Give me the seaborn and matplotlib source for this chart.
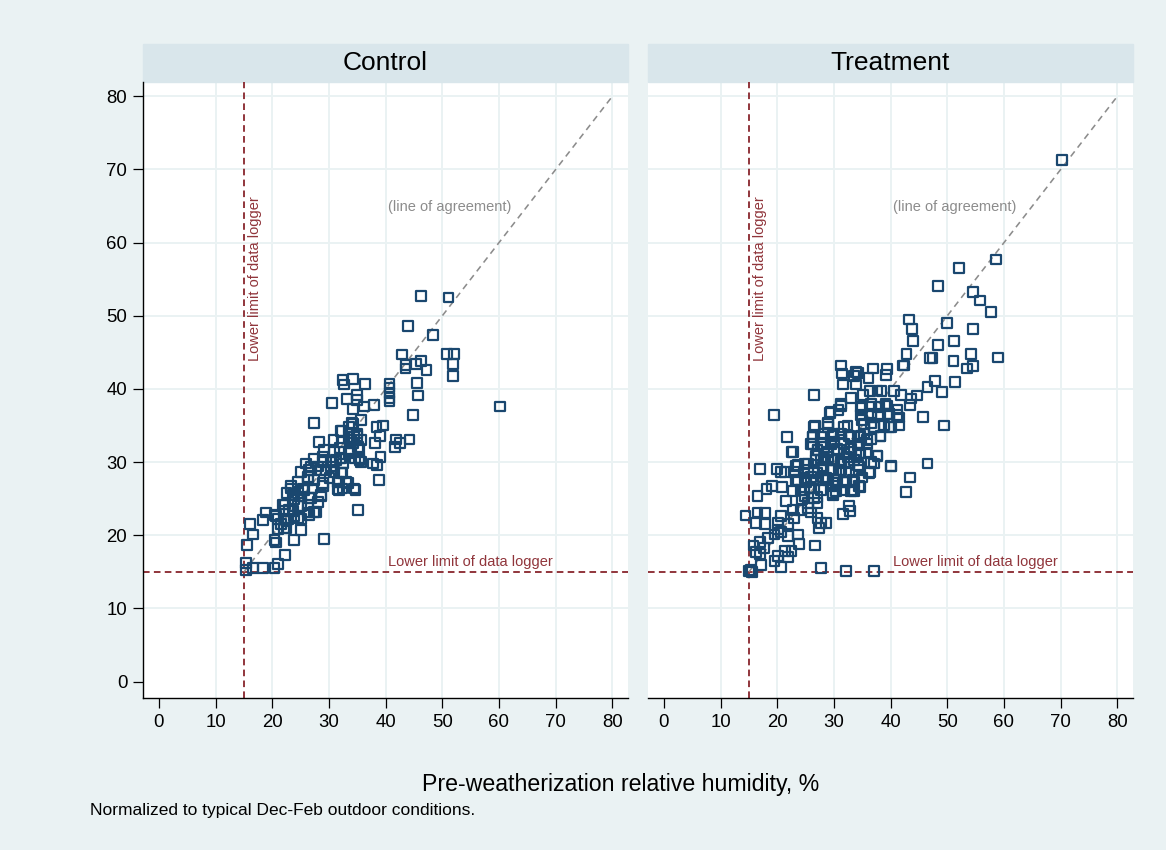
import numpy as np
import pandas as pd
import seaborn as sns
import matplotlib.pyplot as plt
from matplotlib.patches import Rectangle

# pre (x) vs post (y) relative humidity
ctrl_x = [46.3, 51.1, 43.9, 48.4, 42.9, 50.8, 52.0, 51.9, 51.9, 43.5, 43.5, 45.3, 46.3, 47.2, 45.6,
          45.7, 44.9, 40.7, 40.7, 40.7, 40.7, 40.7, 60.2, 32.4, 32.7, 34.2, 36.4, 30.6, 33.2, 35.0,
          35.0, 34.3, 36.2, 37.9, 27.4, 32.3, 34.0, 35.6, 35.0, 33.6, 38.4, 39.5, 39.0, 38.1, 39.1,
          41.9, 42.6, 44.2, 41.6, 37.8, 38.5, 38.9, 28.3, 30.8, 32.3, 34.4, 35.6, 33.7, 27.4, 28.9,
          30.4, 32.0, 33.6, 35.3, 35.6, 26.0, 25.1, 26.5, 28.0, 29.5, 30.9, 32.4, 31.5, 32.4, 34.4,
          34.7, 31.8, 33.3, 35.1, 26.3, 24.5, 27.4, 28.9, 30.1, 23.3, 24.5, 25.7, 26.8, 28.6, 28.0,
          22.5, 23.9, 25.1, 26.3, 27.4, 22.2, 23.7, 24.5, 18.9, 18.4, 20.7, 21.6, 22.8, 21.0, 22.5,
          25.1, 23.9, 22.0, 16.1, 16.6, 15.6, 20.4, 20.7, 22.2, 21.0, 29.2, 15.3, 15.3, 16.6, 18.4,
          20.4, 32.1, 33.6, 34.2, 34.9, 33.9, 35.3, 33.9, 29.2, 30.9, 32.1, 30.4, 28.6, 26.8, 32.1,
          31.5, 33.0, 31.8, 28.9, 27.1, 26.3, 23.3, 23.7, 25.1, 26.5, 28.6, 25.4, 21.9, 23.0, 24.5,
          26.3, 27.7, 21.0, 22.5, 23.9, 25.1, 26.5, 20.4, 22.1, 31.9, 31.3, 32.5, 29.0, 35.1, 34.3,
          33.7, 34.6, 35.4]
ctrl_y = [52.7, 52.5, 48.6, 47.4, 44.7, 44.8, 44.8, 43.4, 41.8, 43.3, 42.8, 43.4, 43.8, 42.6, 40.8,
          39.1, 36.4, 40.7, 40.2, 39.5, 38.8, 38.3, 37.6, 41.2, 40.6, 41.4, 40.7, 38.1, 38.6, 39.2,
          38.5, 37.3, 37.6, 37.8, 35.3, 34.2, 35.4, 35.7, 33.9, 33.4, 34.8, 35.0, 33.6, 32.6, 30.7,
          33.1, 32.6, 33.1, 32.1, 29.8, 29.6, 27.6, 32.7, 33.0, 32.7, 33.4, 33.0, 31.8, 30.5, 30.7,
          30.0, 30.5, 31.2, 30.5, 30.0, 29.8, 28.7, 28.9, 29.4, 28.9, 28.7, 28.5, 26.3, 26.4, 26.4,
          26.2, 27.3, 27.1, 23.5, 28.0, 27.3, 27.6, 27.1, 27.8, 26.4, 25.8, 26.2, 25.1, 25.3, 24.6,
          25.8, 24.9, 24.0, 23.1, 23.2, 24.2, 23.3, 22.4, 23.1, 22.1, 22.6, 21.5, 22.2, 20.9, 21.0,
          20.7, 19.3, 23.3, 21.5, 20.1, 18.7, 19.3, 19.0, 17.3, 16.1, 19.5, 16.2, 15.3, 15.5, 15.5,
          15.5, 34.3, 34.8, 35.2, 33.6, 33.0, 31.8, 31.4, 31.6, 31.4, 30.5, 29.4, 28.9, 29.4, 28.5,
          27.3, 27.3, 26.2, 26.7, 26.4, 27.6, 26.7, 25.5, 25.3, 25.1, 25.5, 26.4, 24.2, 23.5, 24.0,
          24.2, 23.1, 22.2, 21.9, 22.6, 22.2, 22.8, 22.8, 21.0, 31.9, 30.3, 29.8, 30.0, 32.1, 32.6,
          31.7, 30.5, 30.3]

treat_x = [70.2, 58.6, 52.0, 48.4, 54.6, 55.8, 57.7, 43.2, 43.8, 49.9, 54.6, 44.0, 48.4, 51.2, 42.8,
           47.0, 47.4, 51.1, 54.2, 58.9, 53.5, 54.5, 42.4, 47.9, 51.4, 46.5, 49.0, 31.2, 31.4, 31.6,
           33.9, 34.2, 33.6, 33.9, 36.1, 36.9, 39.4, 39.2, 42.2, 26.5, 19.4, 33.0, 35.2, 36.4, 37.7,
           38.4, 40.6, 41.8, 44.6, 43.6, 43.4, 45.7, 49.4, 31.2, 29.3, 30.8, 34.7, 36.5, 39.1, 41.2,
           39.7, 38.2, 41.5, 39.7, 41.5, 28.9, 28.9, 31.8, 35.0, 36.5, 37.1, 38.2, 26.5, 26.3, 27.7,
           29.8, 31.2, 32.7, 34.2, 35.3, 34.4, 35.9, 21.7, 22.5, 26.3, 27.1, 28.3, 29.5, 30.6, 31.8,
           33.0, 28.9, 30.1, 31.2, 32.4, 27.7, 26.8, 28.0, 29.8, 31.2, 33.6, 34.7, 35.6, 37.7, 37.1,
           34.4, 30.6, 40.0, 46.5, 43.4, 42.7, 36.3, 34.4, 33.6, 33.0, 30.4, 29.8, 32.1, 33.6, 32.7,
           32.9, 31.6, 17.0, 20.0, 20.7, 21.3, 23.3, 24.8, 25.4, 23.6, 24.8, 26.0, 27.1, 28.0, 28.9,
           29.8, 19.1, 20.9, 18.1, 16.5, 17.8, 16.5, 14.4, 16.3, 17.9, 20.1, 20.7, 21.6, 22.8, 24.8,
           26.5, 24.4, 25.4, 26.5, 27.1, 25.4, 24.2, 26.0, 27.1, 27.7, 28.6, 27.4, 22.8, 23.0, 21.9,
           20.1, 17.0, 18.4, 19.5, 20.7, 21.9, 23.6, 23.9, 26.7, 21.3, 22.5, 20.1, 19.5, 21.9, 17.7,
           15.8, 16.3, 16.9, 17.2, 20.7, 27.7, 32.1, 37.0, 15.0, 15.3, 15.6,
           31.2, 29.4, 35.0, 36.5, 38.0, 39.4, 34.7, 36.5, 37.8, 39.7, 41.1, 26.7, 28.9, 32.4, 35.3,
           37.1, 38.8, 40.0, 26.3, 28.3, 29.8, 31.2, 33.0, 34.7, 36.5, 38.2, 26.0, 28.0, 30.1, 31.8,
           34.2, 35.9, 22.8, 27.1, 28.9, 30.6, 32.7, 34.4, 37.7, 40.0, 23.6, 25.4, 26.8, 28.3, 29.8,
           31.2, 32.7, 34.2, 36.5, 23.0, 24.8, 26.5, 28.0, 29.5, 30.9, 32.1, 34.4, 36.2, 23.3, 25.1,
           26.8, 28.6, 30.1, 32.1, 33.3, 35.0, 24.2, 25.7, 27.7, 29.8, 31.8, 33.3, 34.7, 24.8, 27.1,
           29.8]
treat_y = [71.3, 57.7, 56.5, 54.1, 53.3, 52.1, 50.5, 49.5, 48.2, 49.0, 48.2, 46.5, 46.0, 46.5, 44.8,
           44.2, 44.2, 43.8, 44.8, 44.3, 42.8, 43.1, 43.2, 41.1, 41.0, 40.3, 39.6, 43.2, 42.1, 40.6,
           42.3, 42.2, 41.8, 40.6, 41.5, 42.8, 42.7, 41.9, 43.2, 39.2, 36.4, 38.8, 39.2, 39.7, 39.8,
           39.7, 39.7, 39.2, 39.1, 38.7, 37.8, 36.2, 35.0, 37.9, 36.7, 37.1, 37.5, 37.9, 37.9, 37.2,
           36.6, 36.4, 36.1, 34.8, 35.0, 35.4, 34.8, 34.8, 35.7, 35.4, 34.8, 33.6, 34.8, 33.4, 33.4,
           33.9, 33.0, 33.6, 33.4, 33.9, 32.5, 33.0, 33.4, 31.4, 32.5, 31.6, 32.1, 32.5, 31.8, 31.2,
           31.8, 30.7, 30.3, 29.8, 30.7, 30.3, 30.9, 29.4, 28.9, 28.9, 30.3, 31.2, 31.2, 30.8, 29.8,
           29.4, 27.6, 29.4, 29.8, 27.9, 25.9, 28.6, 26.7, 26.0, 26.0, 26.0, 25.8, 27.3, 27.3, 24.0,
           23.3, 22.9, 29.1, 29.1, 28.7, 28.7, 29.5, 29.7, 28.9, 27.6, 27.8, 28.0, 28.5, 28.0, 27.6,
           26.7, 26.7, 26.6, 26.3, 25.4, 23.0, 23.1, 22.7, 21.7, 21.5, 21.7, 22.6, 24.7, 26.0, 26.2,
           26.4, 24.9, 24.4, 25.1, 24.4, 23.7, 23.5, 23.1, 22.4, 21.7, 21.7, 21.0, 23.5, 22.4, 21.5,
           20.8, 19.1, 19.6, 20.1, 20.4, 19.9, 20.1, 18.8, 18.6, 17.9, 17.9, 17.2, 16.5, 17.0, 18.3,
           18.6, 17.7, 17.4, 15.9, 15.7, 15.5, 15.1, 15.1, 15.1, 15.2, 15.0,
           37.7, 36.8, 37.4, 37.6, 37.5, 37.7, 36.4, 36.4, 36.6, 36.6, 36.4, 35.0, 35.2, 35.0, 35.2,
           34.8, 35.0, 34.8, 33.4, 33.9, 33.6, 33.9, 33.4, 33.6, 33.2, 33.5, 32.5, 32.5, 32.7, 32.5,
           32.3, 32.5, 31.4, 31.6, 31.4, 31.6, 31.4, 31.2, 30.9, 29.5, 29.6, 29.8, 30.3, 30.5, 30.3,
           30.0, 29.8, 29.6, 30.0, 28.7, 28.5, 28.7, 28.9, 29.1, 28.9, 28.7, 28.9, 28.5, 27.6, 27.3,
           27.6, 27.8, 27.6, 27.3, 27.6, 27.9, 26.2, 26.4, 26.2, 27.1, 26.2, 26.2, 26.6, 25.3, 25.2,
           25.5]

panels = ['Control', 'Treatment']
logger_limit = 15
agree_range = [15, 80]
ticks = list(range(0, 81, 10))
xlabel = 'Pre-weatherization relative humidity, %'
note = 'Normalized to typical Dec-Feb outdoor conditions.'

NAVY = '#1A476F'
MAROON = '#90353B'
BG = '#EAF2F3'
STRIP = '#D9E6EB'

df = pd.concat([
    pd.DataFrame({'pre': ctrl_x, 'post': ctrl_y, 'group': 'Control'}),
    pd.DataFrame({'pre': treat_x, 'post': treat_y, 'group': 'Treatment'}),
])

sns.set_style('white')
plt.rcParams['font.family'] = ['Liberation Sans', 'DejaVu Sans']
plt.rcParams['text.color'] = 'black'

fig = plt.figure(figsize=(11.66, 8.5), dpi=100)
fig.patch.set_facecolor(BG)

lefts = [0.1229, 0.556]
for i, name in enumerate(panels):
    ax = fig.add_axes([lefts[i], 0.1792, 0.4154, 0.7247])
    ax.set_facecolor('white')
    sub = df[df['group'] == name]

    ax.axvline(logger_limit, color=MAROON, lw=1.4, dashes=(3.4, 2.2), zorder=2)
    ax.axhline(logger_limit, color=MAROON, lw=1.4, dashes=(3.4, 2.2), zorder=2)
    ax.plot(agree_range, agree_range, color='#8C8C8C', lw=1.15, dashes=(4, 3), zorder=2)

    sns.scatterplot(data=sub, x='pre', y='post', ax=ax, marker='s', s=50,
                    facecolor='none', edgecolor=NAVY, linewidth=1.6, zorder=3)

    ax.text(40.5, 64.9, '(line of agreement)', color='#8C8C8C', fontsize=10.5, va='center', ha='left')
    ax.text(40.5, 15.4, 'Lower limit of data logger', color=MAROON, fontsize=10.5, va='bottom', ha='left')
    ax.text(15.7, 43.8, 'Lower limit of data logger', color=MAROON, fontsize=10.5,
            rotation=90, va='bottom', ha='left')

    ax.set_xlim(-2.75, 82.7)
    ax.set_ylim(-2.2, 82)
    ax.set_xticks(ticks)
    ax.set_yticks(ticks)
    ax.grid(True, color=BG, lw=1.4, zorder=0)
    ax.set_axisbelow(True)
    ax.xaxis.get_major_ticks()[0].gridline.set_visible(False)
    ax.yaxis.get_major_ticks()[0].gridline.set_visible(False)
    ax.set_xlabel('')
    ax.set_ylabel('')

    for s in ['top', 'right']:
        ax.spines[s].set_visible(False)
    ax.spines['bottom'].set_color('black')
    ax.spines['bottom'].set_linewidth(1.0)
    ax.tick_params(axis='x', direction='out', length=7, width=0.9, color='black',
                   labelcolor='black', labelsize=13.4, pad=5, bottom=True)
    if i == 0:
        ax.spines['left'].set_color('black')
        ax.spines['left'].set_linewidth(1.0)
        ax.tick_params(axis='y', direction='out', length=7.5, width=0.9, color='black',
                       labelcolor='black', labelsize=13.4, pad=4, left=True)
    else:
        ax.spines['left'].set_visible(False)
        ax.tick_params(axis='y', left=False, labelleft=False)

    # panel header strip
    ax.add_patch(Rectangle((0, 1), 1, 0.0618, transform=ax.transAxes, color=STRIP,
                           clip_on=False, zorder=1))
    ax.text(0.5, 1.031, name, transform=ax.transAxes, ha='center', va='center',
            fontsize=19, color='black')

fig.text(0.5326, 0.0765, xlabel, ha='center', va='center', fontsize=16.7, color='black')
fig.text(0.0772, 0.047, note, ha='left', va='center', fontsize=12.5, color='black')

fig.savefig('out.png', dpi=100, facecolor=fig.get_facecolor())
